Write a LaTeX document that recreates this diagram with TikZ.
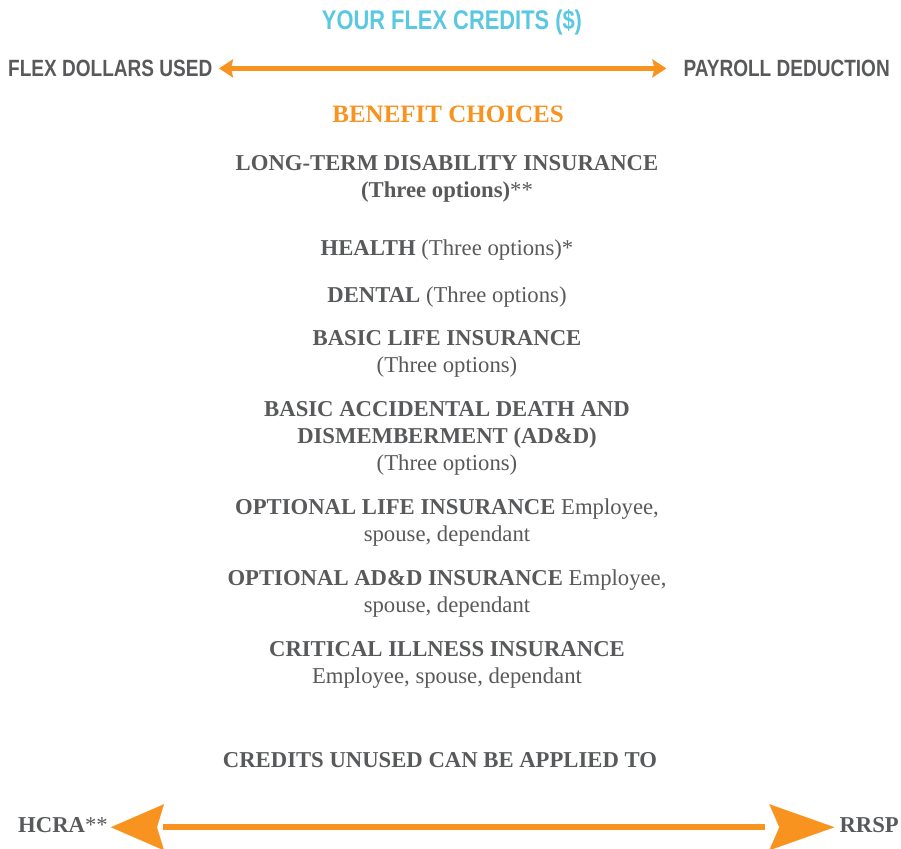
\documentclass[tikz,border=0pt]{standalone}
\usepackage{fontspec}
\setmainfont{Liberation Serif}
\newfontfamily\condsans[FakeStretch=0.81]{Liberation Sans}
\usetikzlibrary{positioning, arrows.meta}
\definecolor{textgray}{HTML}{58595B}
\definecolor{flexcyan}{HTML}{5BC8E2}
\definecolor{flexorange}{HTML}{F7931E}
\tikzstyle{heading} = [font=\condsans\bfseries\fontsize{23.5}{28}\selectfont, text=textgray, inner sep=0pt]
\tikzstyle{title} = [font=\bfseries\fontsize{25}{30}\selectfont, text=flexorange, inner sep=0pt]
\tikzstyle{choice} = [align=center, font=\fontsize{22.7}{27}\selectfont, text=textgray, inner sep=0pt, text depth=5.5pt]
\tikzstyle{flexline} = [draw=flexorange, line width=4.5pt, arrows={Stealth[length=14pt, width=18pt, inset=2pt]-Stealth[length=14pt, width=18pt, inset=2pt]}]
\tikzstyle{unusedline} = [draw=flexorange, line width=6pt]
\tikzstyle{unusedheads} = [draw=white, line width=0.1pt, arrows={Stealth[length=53pt, width=46pt, inset=7pt, color=flexorange]-Stealth[length=65pt, width=46pt, inset=10pt, color=flexorange]}]

\begin{document}
\begin{tikzpicture}[x=1pt, y=-1pt, node distance=22.5pt]
	\useasboundingbox (0,0) rectangle (901,848);
	\node (credits) [heading, text=flexcyan, font=\condsans\bfseries\fontsize{27}{32}\selectfont, anchor=base] at (452,30) {YOUR FLEX CREDITS (\$)};
	\node (used) [heading, anchor=base west] at (8,76.5) {FLEX DOLLARS USED};
	\node (payroll) [heading, anchor=base east] at (890,76.5) {PAYROLL DEDUCTION};
	\node (choices) [title, anchor=base] at (448,122) {BENEFIT CHOICES};
	
	\node (ltd) [choice, anchor=north] at (447,155) {\textbf{LONG-TERM DISABILITY INSURANCE} \\ \textbf{(Three options)}**};
	\node (health) [choice, below=of ltd, yshift=-14pt] {\textbf{HEALTH} (Three options)*};
	\node (dental) [choice, below=of health, yshift=-3pt] {\textbf{DENTAL} (Three options)};
	\node (basiclife) [choice, below=of dental] {\textbf{BASIC LIFE INSURANCE} \\ (Three options)};
	\node (basicadd) [choice, below=of basiclife] {\textbf{BASIC ACCIDENTAL DEATH AND} \\ \textbf{DISMEMBERMENT (AD\&D)} \\ (Three options)};
	\node (optlife) [choice, below=of basicadd] {\textbf{OPTIONAL LIFE INSURANCE} Employee, \\ spouse, dependant};
	\node (optadd) [choice, below=of optlife] {\textbf{OPTIONAL AD\&D INSURANCE} Employee, \\ spouse, dependant};
	\node (critical) [choice, below=of optadd] {\textbf{CRITICAL ILLNESS INSURANCE} \\ Employee, spouse, dependant};
	
	\node (unused) [choice, anchor=base] at (440,767) {\textbf{CREDITS UNUSED CAN BE APPLIED TO}};
	\node (hcra) [choice, anchor=base west] at (18,832) {\textbf{HCRA}**};
	\node (rrsp) [choice, anchor=base east] at (899,832) {\textbf{RRSP}};
	
	\draw [flexline, shorten <=6.5pt, shorten >=17pt] (used.east) -- (payroll.west);
	\draw [unusedheads, shorten <=3pt, shorten >=5pt] (hcra.east) -- (rrsp.west);
	\draw [unusedline, shorten <=55pt, shorten >=74pt] (hcra.east) -- (rrsp.west);
	
\end{tikzpicture}
\end{document}
